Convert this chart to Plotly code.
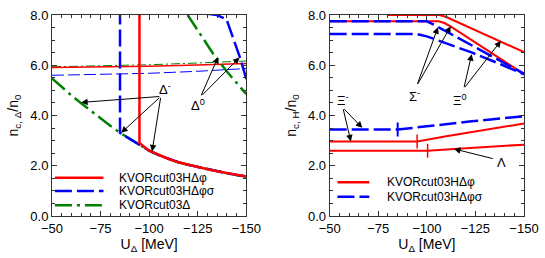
import plotly.graph_objects as go
from plotly.subplots import make_subplots

# ---------------- data (left panel) ----------------
U_curve = [-50, -55, -60, -65, -70, -75, -80, -85, -90, -95, -100, -105, -110, -115,
           -120, -125, -130, -135, -140, -145, -150]
n_curve = [5.48, 5.13, 4.80, 4.49, 4.18, 3.88, 3.59, 3.31, 3.07, 2.84, 2.60, 2.42, 2.27,
           2.14, 2.04, 1.95, 1.86, 1.78, 1.70, 1.63, 1.57]

# Delta^- onset, KVORcut03HΔφ (red)
U_dm_phi = [-95, -95, -100] + U_curve[11:]
n_dm_phi = [8.3, 2.91, 2.60] + n_curve[11:]
# Delta^- onset, KVORcut03HΔφσ (blue)
U_dm_phis = [-85] + U_curve[7:]
n_dm_phis = [8.3] + n_curve[7:]
# Delta^- onset, KVORcut03Δ (green)
U_dm_d = U_curve
n_dm_d = n_curve

# Delta^0 onsets (thick)
U_d0_d = [-119.8, -126, -133, -140, -145, -150]
n_d0_d = [8.0, 7.25, 6.45, 5.75, 5.30, 4.85]
U_d0_phis = [-130, -134.8, -139.8, -143, -147, -150]
n_d0_phis = [8.05, 8.0, 7.83, 7.10, 6.25, 5.45]

# thin lines
U_thin = [-50, -75, -100, -125, -150]
n_thin_phi = [5.91, 5.93, 5.96, 6.01, 6.07]
n_thin_phis = [5.60, 5.63, 5.68, 5.76, 5.87]
n_thin_d = [5.94, 5.97, 6.02, 6.09, 6.17]

# ---------------- data (right panel) ----------------
U_xi0_phi = [-80, -106.6, -110, -138, -150]
n_xi0_phi = [8.0, 8.0, 7.92, 6.95, 6.52]
U_sig_phi = [-50, -106, -109, -112, -150]
n_sig_phi = [7.75, 7.75, 7.68, 7.56, 5.65]
U_sig_phis = [-50, -100, -103, -120, -138, -150]
n_sig_phis = [7.75, 7.75, 7.64, 6.92, 6.18, 5.66]
U_xi0_phis = [-50, -95, -100, -103, -123, -138, -150]
n_xi0_phis = [7.24, 7.24, 7.15, 7.07, 6.51, 6.04, 5.64]

U_xim_phis = [-50, -85, -100, -123, -150]
n_xim_phis = [3.44, 3.44, 3.57, 3.77, 3.97]
U_xim_phi = [-50, -95, -110, -130, -150]
n_xim_phi = [2.97, 2.97, 3.17, 3.43, 3.68]
U_lam_phi = [-50, -100.4, -114, -150]
n_lam_phi = [2.60, 2.60, 2.67, 2.84]

# Δ onset markers on hyperon curves
U_mark_phi = [-95, -100.4]
n_mark_phi = [2.97, 2.60]
U_mark_phis = [-85]
n_mark_phis = [3.44]

x_ticks = [-50, -75, -100, -125, -150]
y_ticks = [0, 2, 4, 6, 8]
leg_left = ["KVORcut03HΔφ", "KVORcut03HΔφσ", "KVORcut03Δ"]
leg_right = ["KVORcut03HΔφ", "KVORcut03HΔφσ"]

RED = "#ff0000"
BLUE = "#0000ff"
GREEN = "#008000"
FONT = "Liberation Sans, Arial, sans-serif"
DASH = "17px,5px"
DASHDOT = "17px,5px,3px,5px"

fig = make_subplots(rows=1, cols=2, horizontal_spacing=0.1766)


def line(x, y, color, width, dash="solid", col=1):
    fig.add_trace(go.Scatter(x=x, y=y, mode="lines", showlegend=False,
                             line=dict(color=color, width=width, dash=dash),
                             hoverinfo="skip"), row=1, col=col)


# left panel
line(U_thin, n_thin_d, GREEN, 1, "9px,3px,2px,3px")
line(U_thin, n_thin_phis, BLUE, 1, "12px,4px")
line(U_thin, n_thin_phi, RED, 1.3)
line(U_dm_d, n_dm_d, GREEN, 2.5, DASHDOT)
line(U_d0_d, n_d0_d, GREEN, 2.5, DASHDOT)
line(U_dm_phis, n_dm_phis, BLUE, 2.5, DASH)
line(U_d0_phis, n_d0_phis, BLUE, 2.5, DASH)
line(U_dm_phi, n_dm_phi, RED, 2.5)

# right panel
line(U_xi0_phis, n_xi0_phis, BLUE, 2.5, DASH, 2)
line(U_sig_phi, n_sig_phi, RED, 2, "solid", 2)
line(U_sig_phis, n_sig_phis, BLUE, 2.5, DASH, 2)
line(U_xi0_phi, n_xi0_phi, RED, 2, "solid", 2)
line(U_xim_phis, n_xim_phis, BLUE, 2.5, DASH, 2)
line(U_xim_phi, n_xim_phi, RED, 2, "solid", 2)
line(U_lam_phi, n_lam_phi, RED, 2, "solid", 2)
fig.add_trace(go.Scatter(x=U_mark_phi, y=n_mark_phi, mode="markers", showlegend=False,
                         marker=dict(symbol="line-ns", size=10,
                                     line=dict(color=RED, width=1.5)),
                         hoverinfo="skip"), row=1, col=2)
fig.add_trace(go.Scatter(x=U_mark_phis, y=n_mark_phis, mode="markers", showlegend=False,
                         marker=dict(symbol="line-ns", size=10,
                                     line=dict(color=BLUE, width=2)),
                         hoverinfo="skip"), row=1, col=2)

axis_common = dict(showline=True, linecolor="#333333", linewidth=1, mirror="ticks",
                   ticks="inside", ticklen=5, tickcolor="#333333",
                   showgrid=False, zeroline=False,
                   tickfont=dict(size=13, color="black", family=FONT))
for c in (1, 2):
    fig.update_xaxes(range=[-50, -150], tickvals=x_ticks,
                     minor=dict(dtick=5, ticklen=3, ticks="inside", tickcolor="#333333"),
                     title=dict(text="U<sub>Δ</sub> [MeV]", standoff=4,
                                font=dict(size=14, family=FONT, color="black")),
                     row=1, col=c, **axis_common)
    fig.update_yaxes(range=[0, 8], tickvals=y_ticks, tickformat=".1f",
                     minor=dict(dtick=0.5, ticklen=3, ticks="inside", tickcolor="#333333"),
                     row=1, col=c, **axis_common)
fig.update_yaxes(title=dict(text="n<sub>c, Δ</sub>/n<sub>0</sub>", standoff=8,
                            font=dict(size=14, family=FONT, color="black")), row=1, col=1)
fig.update_yaxes(title=dict(text="n<sub>c, H</sub>/n<sub>0</sub>", standoff=8,
                            font=dict(size=14, family=FONT, color="black")), row=1, col=2)

ann = []


def arrow(xr, yr, tip, tail):
    ann.append(dict(xref=xr, yref=yr, axref=xr, ayref=yr, x=tip[0], y=tip[1],
                    ax=tail[0], ay=tail[1], text="", showarrow=True, arrowhead=2,
                    arrowsize=1.3, arrowwidth=1, arrowcolor="black", standoff=0,
                    startstandoff=0))


def label(xr, yr, pos, text):
    ann.append(dict(xref=xr, yref=yr, x=pos[0], y=pos[1], text=text, showarrow=False,
                    font=dict(size=13, family=FONT, color="black")))


# left annotations
label("x", "y", (-108.2, 5.04), "Δ<sup>-</sup>")
for tip in [(-65, 4.52), (-85.6, 3.31), (-101.5, 2.57)]:
    arrow("x", "y", tip, (-106, 4.76))
label("x", "y", (-125.0, 4.42), "Δ<sup>0</sup>")
for tip in [(-135.5, 6.33), (-146.5, 6.31)]:
    arrow("x", "y", tip, (-126.5, 4.75))

# right annotations
label("x2", "y2", (-93.5, 4.77), "Σ<sup>-</sup>")
for tip in [(-105.7, 7.51), (-112.3, 7.55)]:
    arrow("x2", "y2", tip, (-94.9, 5.2))
label("x2", "y2", (-117.0, 4.62), "Ξ<sup>0</sup>")
for tip in [(-123.1, 6.44), (-138.1, 6.97)]:
    arrow("x2", "y2", tip, (-119, 5.07))
label("x2", "y2", (-56.8, 4.62), "Ξ<sup>-</sup>")
for tip in [(-66.8, 3.51), (-60.9, 2.97)]:
    arrow("x2", "y2", tip, (-56.8, 4.31))
label("x2", "y2", (-138.3, 2.12), "Λ")
arrow("x2", "y2", (-114, 2.67), (-134.7, 2.27))

# manual legends
shapes = []
left_styles = [(RED, "solid"), (BLUE, DASH), (GREEN, DASHDOT)]
left_y = [0.19, 0.124, 0.053]
for (col, dash), yy, name in zip(left_styles, left_y, leg_left):
    shapes.append(dict(type="line", xref="x domain", yref="y domain", x0=0.015, x1=0.265,
                       y0=yy, y1=yy, line=dict(color=col, width=2.5, dash=dash)))
    ann.append(dict(xref="x domain", yref="y domain", x=0.335, y=yy, xanchor="left",
                    yanchor="middle", text=name, showarrow=False,
                    font=dict(size=12, family=FONT, color="black")))
right_styles = [(RED, "solid"), (BLUE, DASH)]
right_y = [0.168, 0.096]
for (col, dash), yy, name in zip(right_styles, right_y, leg_right):
    shapes.append(dict(type="line", xref="x2 domain", yref="y2 domain", x0=0.04, x1=0.204,
                       y0=yy, y1=yy, line=dict(color=col, width=2.5, dash=dash)))
    ann.append(dict(xref="x2 domain", yref="y2 domain", x=0.284, y=yy, xanchor="left",
                    yanchor="middle", text=name, showarrow=False,
                    font=dict(size=12, family=FONT, color="black")))

fig.update_layout(width=545, height=258, margin=dict(l=52, r=6, t=15, b=42),
                  paper_bgcolor="white", plot_bgcolor="white",
                  annotations=ann, shapes=shapes, showlegend=False,
                  font=dict(family=FONT, color="black"))
fig.write_html("out.html", config={"displayModeBar": False},
               post_script="document.body.style.margin='0px';"
                           "document.documentElement.style.overflow='hidden';")
